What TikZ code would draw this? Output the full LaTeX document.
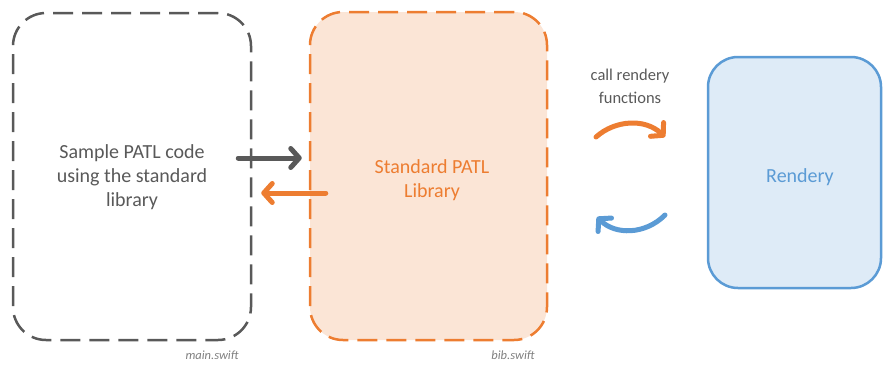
\documentclass[tikz,border=0pt]{standalone}
\usepackage{fontspec}
\setmainfont{Carlito}
\usetikzlibrary{arrows.meta}
\definecolor{txtgray}{HTML}{595959}
\definecolor{lightgray}{HTML}{7F7F7F}
\definecolor{patlorange}{HTML}{ED7D31}
\definecolor{patlpeach}{HTML}{FBE5D6}
\definecolor{renderblue}{HTML}{5B9BD5}
\definecolor{renderfill}{HTML}{DEEBF7}
\tikzset{
  box/.style={rounded corners=33pt, line width=2.5pt, inner sep=0pt},
  dashbox/.style={box, dash pattern=on 20pt off 9pt},
  boxtext/.style={align=center, font=\fontsize{20}{24}\selectfont, inner sep=0pt},
  flow/.style={line width=5pt, line cap=round,
    -{Straight Barb[length=8.5pt,width=19pt,line cap=round,line join=round]}},
  filename/.style={font=\fontsize{12.5}{14}\selectfont\itshape, text=lightgray},
}
\begin{document}
\begin{tikzpicture}[x=1pt,y=-1pt]
  \useasboundingbox (0,0) rectangle (883,364);

  % source file using the library
  \node[dashbox, draw=txtgray, minimum width=238pt, minimum height=327pt]
    (sample) at (132,176.5) {};
  \node[boxtext, text=txtgray] (sampletext) at (132,177)
    {Sample PATL code\\using the standard\\library};
  % the standard library itself
  \node[dashbox, draw=patlorange, fill=patlpeach,
        minimum width=237pt, minimum height=328pt]
    (stdlib) at (428.5,176) {};
  \node[boxtext, text=patlorange] (stdlibtext) at (432,180)
    {Standard PATL\\Library};
  % rendering back end
  \node[box, rounded corners=30pt, draw=renderblue, fill=renderfill,
        minimum width=173pt, minimum height=231pt]
    (rendery) at (794.5,172.5) {};
  \node[boxtext, text=renderblue] (renderytext) at (800,177) {Rendery};

  % file names
  \node[filename, anchor=base] (mainfile) at (212,359) {main.swift};
  \node[filename, anchor=base] (bibfile) at (513,359) {bib.swift};

  % calls between program and library
  \draw[flow, txtgray] ([xshift=-14pt,yshift=18.5pt]sample.east)
    -- ([xshift=-7pt,yshift=18pt]stdlib.west);
  \draw[flow, patlorange] ([xshift=17pt,yshift=-17pt]stdlib.west)
    -- ([xshift=9pt,yshift=-16.5pt]sample.east);

  % calls between library and renderer
  \node[font=\fontsize{16.5}{23}\selectfont, text=txtgray, align=center]
    (calllabel) at (630,86.5) {call rendery\\functions};
  \coordinate (callstart) at (596,137);
  \coordinate (callend) at (665,137);
  \coordinate (retstart) at (665,215);
  \coordinate (retend) at (597,217);
  \draw[flow, patlorange] (callstart) .. controls (615,120) and (645,118) .. (callend);
  \draw[flow, renderblue] (retstart) .. controls (645,235) and (615,235) .. (retend);
\end{tikzpicture}
\end{document}
